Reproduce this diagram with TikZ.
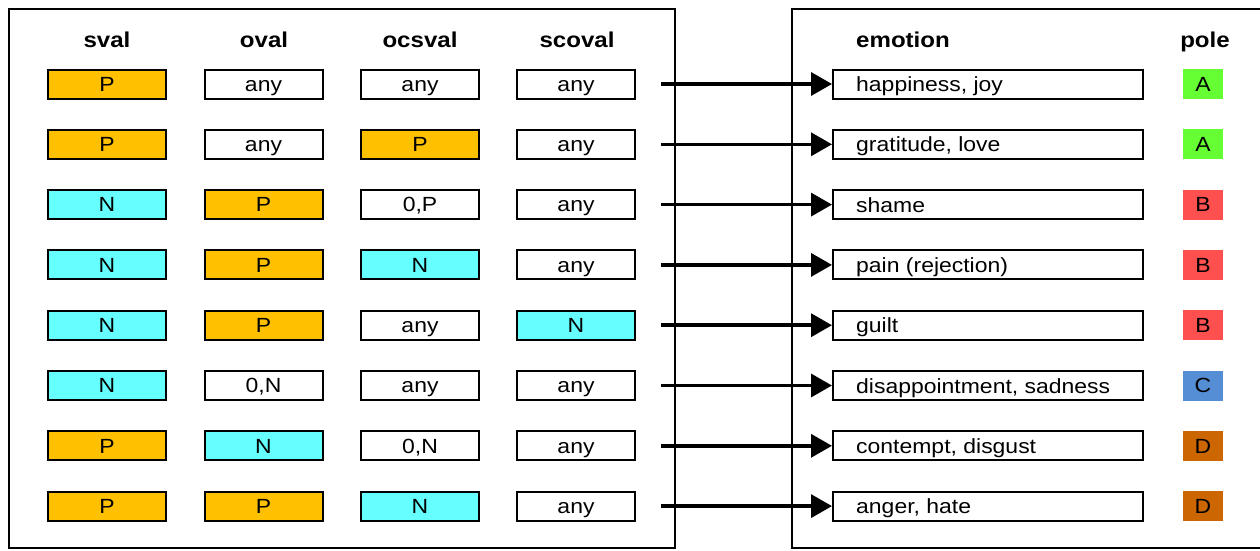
\documentclass[tikz,border=0pt]{standalone}
\usepackage{fontspec}
\setmainfont{Liberation Sans}[FakeStretch=1.12]
\usetikzlibrary{arrows.meta}
\definecolor{orng}{HTML}{FFC000}
\definecolor{cyn}{HTML}{66FFFF}
\definecolor{pA}{HTML}{66FF33}
\definecolor{pB}{HTML}{FF5050}
\definecolor{pC}{HTML}{558ED5}
\definecolor{pD}{HTML}{CC6600}
\tikzset{
  x=1pt, y=-1pt,
  frame/.style={draw=black, line width=2pt},
  cell/.style={draw=black, line width=2pt, minimum width=118pt, minimum height=29pt, inner sep=0pt, font=\fontsize{20.5}{22}\selectfont, text height=14.5pt, text depth=0pt, anchor=center},
  emo/.style={draw=black, line width=2pt, minimum width=310pt, minimum height=29pt, inner sep=0pt, font=\fontsize{20.5}{22}\selectfont},
  emotext/.style={anchor=base west, inner sep=0pt, font=\fontsize{20.5}{22}\selectfont},
  polebox/.style={minimum width=40pt, minimum height=30pt, inner sep=0pt, font=\fontsize{20.5}{22}\selectfont, text height=14.5pt, text depth=0pt},
  hdr/.style={anchor=base, inner sep=0pt, font=\fontsize{21.5}{23}\selectfont\bfseries},
  flow/.style={line width=3.5pt, -{Triangle[length=21pt,width=23pt]}},
  P/.style={cell, fill=orng},
  N/.style={cell, fill=cyn},
  W/.style={cell, fill=white},
}
\begin{document}
\begin{tikzpicture}
\useasboundingbox (0,0) rectangle (1260,550);
% frames
\draw[frame] (8.5,8.5) rectangle (674.5,548);
\draw[frame] (1270,8.5) -- (792,8.5) -- (792,548) -- (1270,548);
% headers
\node[hdr] (h1) at (107,47) {sval};
\node[hdr] (h2) at (264,47) {oval};
\node[hdr] (h3) at (420,47) {ocsval};
\node[hdr] (h4) at (577,47) {scoval};
\node[hdr, anchor=base west] (h5) at (856,47) {emotion};
\node[hdr] (h6) at (1205,47) {pole};
% rows
\foreach \r/\a/\ta/\b/\tb/\c/\tc/\d/\td/\e/\pc/\pl in {
  1/P/P/W/any/W/any/W/any/{happiness, joy}/pA/A,
  2/P/P/W/any/P/P/W/any/{gratitude, love}/pA/A,
  3/N/N/P/P/W/{0,P}/W/any/shame/pB/B,
  4/N/N/P/P/N/N/W/any/pain (rejection)/pB/B,
  5/N/N/P/P/W/any/N/N/guilt/pB/B,
  6/N/N/W/{0,N}/W/any/W/any/{disappointment, sadness}/pC/C,
  7/P/P/N/N/W/{0,N}/W/any/{contempt, disgust}/pD/D,
  8/P/P/P/P/N/N/W/any/{anger, hate}/pD/D}{
  \pgfmathsetmacro{\yy}{84+(\r-1)*60.3}
  \node[\a] (s\r) at (107,\yy) {\ta};
  \node[\b] (o\r) at (263.5,\yy) {\tb};
  \node[\c] (oc\r) at (420,\yy) {\tc};
  \node[\d] (sc\r) at (576,\yy) {\td};
  \node[emo] (em\r) at (988,\yy) {};
  \node[emotext] (et\r) at (856,\yy+7.5) {\e};
  \node[polebox, fill=\pc] (p\r) at (1203,\yy) {\pl};
  \coordinate (st\r) at (661,\yy);
  \draw[flow] (st\r) -- (em\r.west);
}
\end{tikzpicture}
\end{document}
